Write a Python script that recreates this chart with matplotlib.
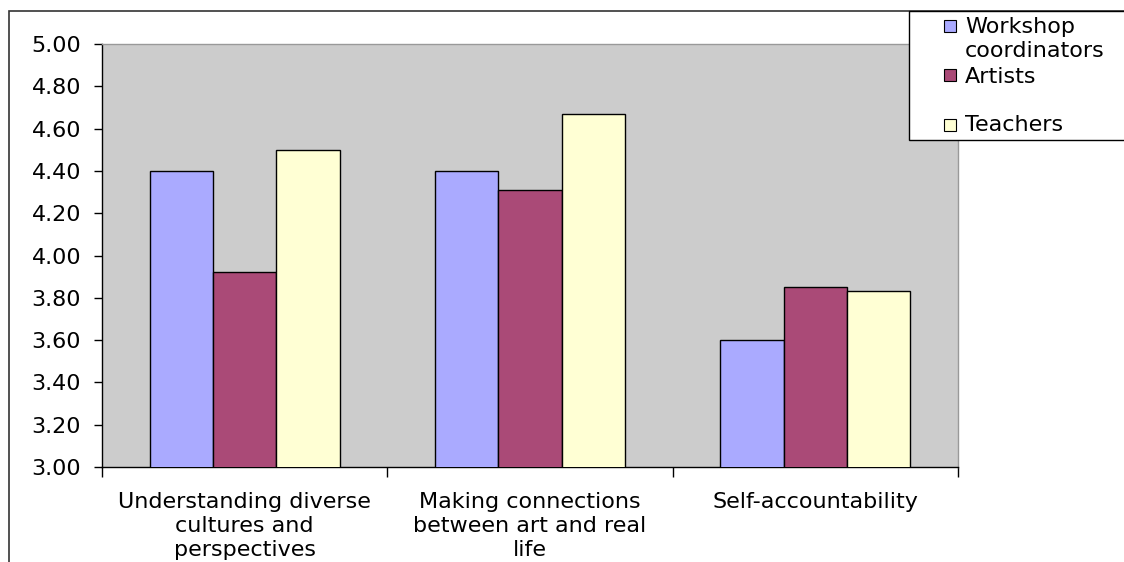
from matplotlib import pyplot as plt
from matplotlib.patches import Rectangle
import numpy as np

# Mean ratings per outcome and respondent group
categories = ["Understanding diverse\ncultures and\nperspectives",
              "Making connections\nbetween art and real\nlife",
              "Self-accountability"]
coordinators = [4.40, 4.40, 3.60]
artists = [3.92, 4.31, 3.85]
teachers = [4.50, 4.67, 3.83]

series_names = ["Workshop\ncoordinators", "Artists", "Teachers"]
colors = ["#AAAAFF", "#AA4A77", "#FFFFD4"]

W, H = 1124, 562
fig = plt.figure(figsize=(W/100, H/100), dpi=100)
fig.patch.set_facecolor("white")

# plot area in pixel coordinates
left, right, top, bottom = 102, 958, 44, 467
ax = fig.add_axes([left/W, 1-bottom/H, (right-left)/W, (bottom-top)/H])
ax.set_facecolor("#CCCCCC")

# Excel style clustered bars: gap width 150% -> group = 4.5 bar widths
x = np.arange(len(categories))
bar_w = 1/4.5
for i, (vals, c) in enumerate(zip([coordinators, artists, teachers], colors)):
    ax.bar(x + (i-1)*bar_w, vals, width=bar_w, color=c, edgecolor="black",
           linewidth=1.0, zorder=3)

ax.set_xlim(-0.5, len(categories)-0.5)
ax.set_ylim(3.0, 5.0)
ax.set_yticks(np.arange(3.0, 5.01, 0.2))
ax.set_yticklabels(["%.2f" % v for v in np.arange(3.0, 5.01, 0.2)])
ax.tick_params(axis="y", direction="out", length=6, width=1, pad=9, labelsize=16)

# category labels centred, tick marks on the category boundaries
ax.set_xticks(x)
ax.set_xticklabels(categories, fontsize=16, linespacing=1.25)
ax.tick_params(axis="x", which="major", length=0, pad=18)
ax.set_xticks(np.arange(-0.5, len(categories)), minor=True)
ax.tick_params(axis="x", which="minor", direction="out", length=7, width=1)

for s in ["top", "right"]:
    ax.spines[s].set_color("#999999")
    ax.spines[s].set_linewidth(1)
for s in ["left", "bottom"]:
    ax.spines[s].set_color("black")
    ax.spines[s].set_linewidth(1)

# outer chart border
fig.add_artist(Rectangle((9/W, -0.1), 1.2, 1+0.1-11/H, transform=fig.transFigure,
                         fill=False, edgecolor="#333333", linewidth=1.2))

# legend box
fig.add_artist(Rectangle((909/W, 1-140/H), 0.5, (140-11)/H, transform=fig.transFigure,
                         facecolor="white", edgecolor="black", linewidth=1.0, zorder=5))
text_base = [33, 83, 131]
square_top = [20, 69, 119]
for name, c, yb, ys in zip(series_names, colors, text_base, square_top):
    fig.add_artist(Rectangle((944/W, 1-(ys+12)/H), 12/W, 12/H, transform=fig.transFigure,
                             facecolor=c, edgecolor="black", linewidth=0.8, zorder=6))
    # each line of the entry placed on its own baseline, 24 px apart
    for k, line in enumerate(name.split("\n")):
        fig.text(965/W, 1-(yb + 24*k)/H, line, fontsize=16, va="baseline",
                 ha="left", zorder=6)

fig.savefig("out.png", dpi=100)
